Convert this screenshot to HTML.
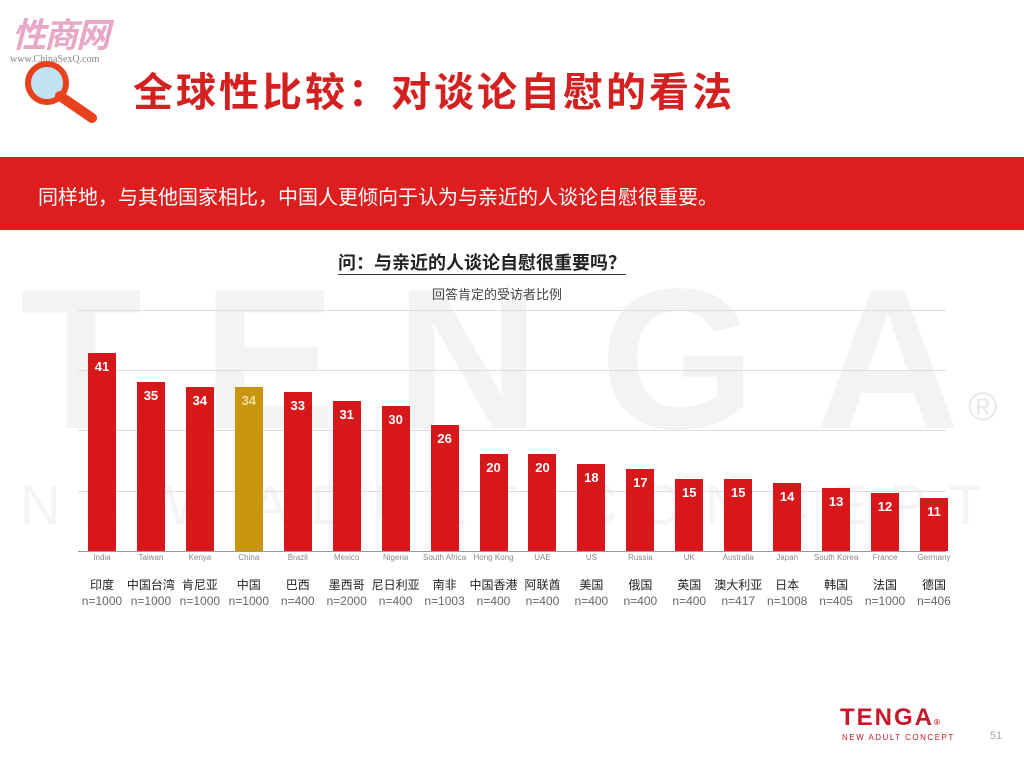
<!DOCTYPE html>
<html><head><meta charset="utf-8"><style>
body{margin:0;width:1024px;height:768px;background:#fff;position:relative;overflow:hidden;font-family:"Liberation Sans","Noto Sans CJK SC",sans-serif}
.abs{position:absolute}
.bar{position:absolute;width:28px;background:#d8171b;color:#fff;font-size:13px;font-weight:bold;text-align:center;padding-top:6px;box-sizing:border-box}
.en{position:absolute;top:553px;width:80px;text-align:center;font-size:8px;color:#888}
.cn{position:absolute;top:577px;width:80px;text-align:center;font-size:12px;color:#222;line-height:16px}
.cn span{color:#666}
</style></head><body>
<div class="abs" style="left:12px;top:8px;font-size:34px;font-weight:bold;color:#e8a6c8;font-style:italic;letter-spacing:-2px">性商网</div>
<div class="abs" style="left:10px;top:54px;font-size:10px;color:#888;font-family:'Liberation Serif',serif">www.ChinaSexQ.com</div>
<svg class="abs" style="left:22px;top:58px" width="90" height="65"><circle cx="25" cy="25" r="19" fill="#bfe3f2" stroke="#e8421c" stroke-width="6"/><line x1="38" y1="38" x2="70" y2="60" stroke="#e8421c" stroke-width="10" stroke-linecap="round"/></svg>
<div class="abs" style="left:133px;top:60px;font-size:40px;font-weight:bold;color:#d32020;letter-spacing:3px;white-space:nowrap">全球性比较：对谈论自慰的看法</div>
<div class="abs" style="left:0;top:157px;width:1024px;height:73px;background:#dc1e1e"></div>
<div class="abs" style="left:38px;top:181px;font-size:20px;color:#fff">同样地，与其他国家相比，中国人更倾向于认为与亲近的人谈论自慰很重要。</div>
<div class="abs" style="left:20px;top:270px;font-size:200px;font-weight:bold;color:#f3f3f3;letter-spacing:60px;line-height:180px;white-space:nowrap">TENGA</div>
<div class="abs" style="left:20px;top:475px;font-size:56px;color:#f4f4f4;letter-spacing:22px;line-height:60px;white-space:nowrap">NEW ADULT CONCEPT</div>
<div class="abs" style="left:968px;top:385px;font-size:40px;color:#e8e8e8">®</div>
<div class="abs" style="left:338px;top:252px;font-size:18px;font-weight:bold;color:#222;border-bottom:1px solid #333;line-height:22px">问：与亲近的人谈论自慰很重要吗？</div>
<div class="abs" style="left:432px;top:284px;font-size:13px;color:#444">回答肯定的受访者比例</div>
<div class="abs" style="left:78px;top:310px;width:868px;height:1px;background:#ddd"></div>
<div class="abs" style="left:78px;top:370px;width:868px;height:1px;background:#ddd"></div>
<div class="abs" style="left:78px;top:430px;width:868px;height:1px;background:#ddd"></div>
<div class="abs" style="left:78px;top:491px;width:868px;height:1px;background:#ddd"></div>
<div class="abs" style="left:78px;top:551px;width:868px;height:1px;background:#999"></div>
<div id="c"></div>
<div class="abs" style="left:840px;top:704px;font-size:24px;font-weight:bold;color:#c8182a;letter-spacing:2px">TENGA<span style="font-size:8px">®</span></div>
<div class="abs" style="left:842px;top:733px;font-size:8px;color:#c8182a;letter-spacing:1.5px">NEW ADULT CONCEPT</div>
<div class="abs" style="left:990px;top:730px;font-size:11px;color:#aaa">51</div>
<script>
var d=[[41,"India","印度","1000"],[35,"Taiwan","中国台湾","1000"],[34,"Kenya","肯尼亚","1000"],[34,"China","中国","1000"],[33,"Brazil","巴西","400"],[31,"Mexico","墨西哥","2000"],[30,"Nigeria","尼日利亚","400"],[26,"South Africa","南非","1003"],[20,"Hong Kong","中国香港","400"],[20,"UAE","阿联酋","400"],[18,"US","美国","400"],[17,"Russia","俄国","400"],[15,"UK","英国","400"],[15,"Australia","澳大利亚","417"],[14,"Japan","日本","1008"],[13,"South Korea","韩国","405"],[12,"France","法国","1000"],[11,"Germany","德国","406"]];
var h="";d.forEach(function(r,i){var cx=102+i*48.94,ht=r[0]*4.83;
h+='<div class="bar" style="left:'+(cx-14)+'px;top:'+(551-ht)+'px;height:'+ht+'px;'+(i==3?'background:#c8960c;color:#f3e0a0':'')+'">'+r[0]+'</div>';
h+='<div class="en" style="left:'+(cx-40)+'px">'+r[1]+'</div>';
h+='<div class="cn" style="left:'+(cx-40)+'px">'+r[2]+'<br><span>n='+r[3]+'</span></div>';});
document.getElementById("c").innerHTML=h;
</script>
</body></html>
